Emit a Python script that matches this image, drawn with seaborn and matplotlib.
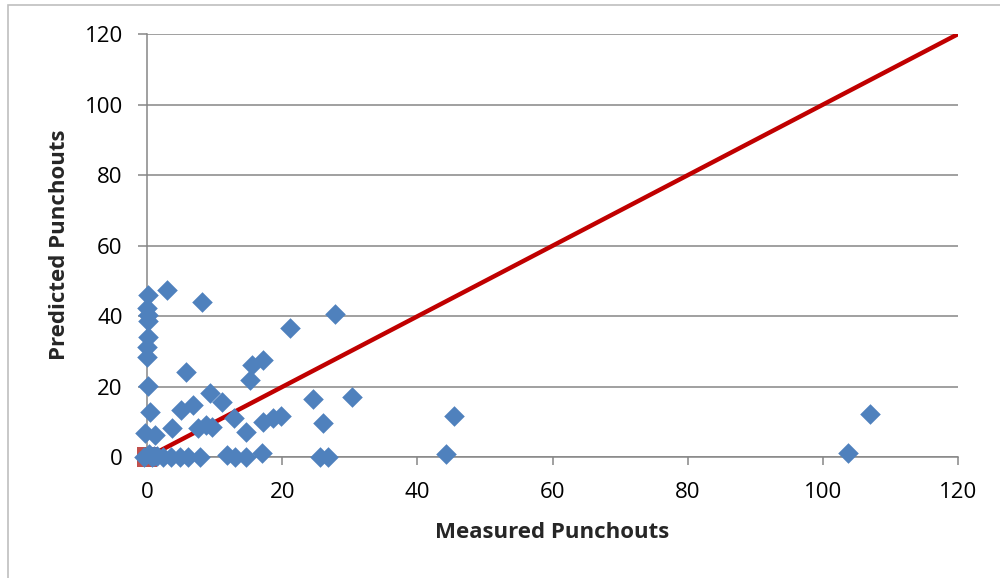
import seaborn as sns
import matplotlib.pyplot as plt
import pandas as pd
from matplotlib.patches import Rectangle

# measured vs predicted punchouts
measured = [0.2, 2.9, 8.1, 0.0, 0.2, 0.2, 0.2, 0.0, 0.0, 5.8,
            0.2, 0.4, 5.1, 6.8, 9.3, 11.1, -0.3, 1.2, 3.7, 7.6,
            8.8, 9.6, 12.8, 14.7, 15.2, 15.5, 17.2, 21.1, 27.8, 24.5,
            30.3, 26.0, 17.2, 18.7, 19.9, 17.0, 11.8, -0.5, 0.7, 1.5,
            2.4, 3.6, 4.9, 6.1, 7.9, 13.0, 14.7, 25.6, 26.8, 0.3,
            1.0, 44.2, 45.4, 103.7, 107.0]
predicted = [46.0, 47.5, 44.1, 42.3, 40.4, 38.8, 34.2, 31.4, 28.6, 24.3,
             20.3, 13.0, 13.5, 14.9, 18.2, 15.8, 6.9, 6.4, 8.3, 8.3,
             9.2, 8.7, 11.1, 7.3, 22.0, 26.2, 27.6, 36.6, 40.8, 16.5,
             17.2, 9.7, 10.1, 11.1, 11.8, 1.2, 0.7, 0.0, 0.0, 0.3,
             0.0, 0.0, 0.0, 0.0, 0.0, 0.0, 0.0, 0.0, 0.0, 1.0,
             0.5, 1.0, 11.9, 1.2, 12.4]

line_x = [0, 120]
line_y = [0, 120]
ticks = [0, 20, 40, 60, 80, 100, 120]

df = pd.DataFrame({"Measured Punchouts": measured, "Predicted Punchouts": predicted})

sns.set_theme(style="white")
plt.rcParams['font.family'] = ['Open Sans', 'DejaVu Sans']

fig = plt.figure(figsize=(10, 5.78), dpi=100)
ax = fig.add_axes([0.147, 0.2085, 0.811, 0.7325])

grey = "#868686"

# origin marker of the 1:1 series
ax.scatter([line_x[0]], [line_y[0]], marker="s", s=200, color="#C0504D",
           linewidths=0, clip_on=False, zorder=2)
sns.lineplot(x=line_x, y=line_y, ax=ax, color="#C00000", linewidth=3.2, zorder=3)
sns.scatterplot(data=df, x="Measured Punchouts", y="Predicted Punchouts", ax=ax,
                marker="D", s=110, color="#4F81BD", linewidth=0, clip_on=False, zorder=4)

ax.set_xlim(0, 120)
ax.set_ylim(0, 120)
ax.set_xticks(ticks)
ax.set_yticks(ticks)
ax.yaxis.grid(True, color=grey, linewidth=1.1)
ax.xaxis.grid(False)
ax.set_axisbelow(True)

for side in ["top", "right"]:
    ax.spines[side].set_visible(False)
for side in ["left", "bottom"]:
    ax.spines[side].set_color(grey)
    ax.spines[side].set_linewidth(1.1)

ax.tick_params(axis="y", direction="out", length=6.5, width=1.1, color=grey,
               pad=11, labelsize=16, labelcolor="black", left=True)
ax.tick_params(axis="x", direction="out", length=5.5, width=1.1, color=grey,
               pad=12, labelsize=16, labelcolor="black", bottom=True)

ax.set_xlabel("Measured Punchouts", fontsize=16, fontweight="bold")
ax.set_ylabel("Predicted Punchouts", fontsize=16, fontweight="bold")
ax.xaxis.set_label_coords(0.5, -0.152)
ax.yaxis.set_label_coords(-0.095, 0.503)

# chart border (only left and top visible in the crop)
fig.patches.append(Rectangle((0.008, -0.1), 1.2, 0.1 + 1 - 5 / 578,
                             transform=fig.transFigure, fill=False,
                             edgecolor="#BFBFBF", linewidth=1.2))

plt.savefig("out.png", dpi=100)
